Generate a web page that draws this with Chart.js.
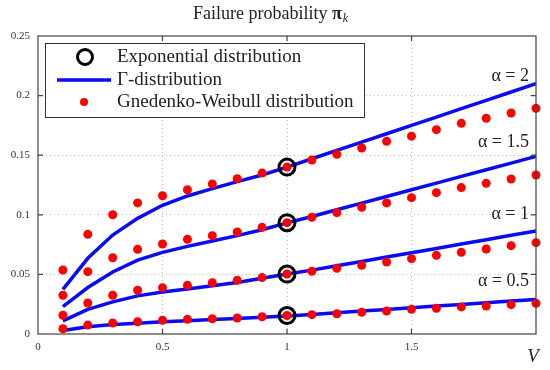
<!DOCTYPE html>
<html>
<head>
<meta charset="utf-8">
<script src="https://cdn.jsdelivr.net/npm/chart.js@4.4.0/dist/chart.umd.min.js"></script>
<style>
  html, body { margin: 0; padding: 0; background: #fff; }
</style>
</head>
<body>
<canvas id="chart" width="550" height="370"></canvas>
<script>
// load V values (x axis)
const V = [0.1, 0.2, 0.3, 0.4, 0.5, 0.6, 0.7, 0.8, 0.9, 1.0,
           1.1, 1.2, 1.3, 1.4, 1.5, 1.6, 1.7, 1.8, 1.9, 2.0];

// Gamma-distribution curves, one per alpha
const gamma2  = [0.0375, 0.0635, 0.083, 0.097, 0.108, 0.1158, 0.122, 0.1278, 0.1334, 0.140,
                 0.147, 0.154, 0.161, 0.168, 0.175, 0.182, 0.189, 0.196, 0.203, 0.210];
const gamma15 = [0.023, 0.039, 0.052, 0.062, 0.0685, 0.0735, 0.078, 0.0825, 0.0875, 0.0932,
                 0.0986, 0.1042, 0.1098, 0.1154, 0.121, 0.1266, 0.1322, 0.1378, 0.1434, 0.149];
const gamma1  = [0.011, 0.0207, 0.027, 0.032, 0.0352, 0.0378, 0.0405, 0.0432, 0.0468, 0.0503,
                 0.0536, 0.0573, 0.0609, 0.0646, 0.0682, 0.0718, 0.0755, 0.0791, 0.0828, 0.0864];
const gamma05 = [0.003, 0.006, 0.008, 0.009, 0.0102, 0.0112, 0.0122, 0.013, 0.014, 0.0152,
                 0.0164, 0.0178, 0.0192, 0.0206, 0.022, 0.0234, 0.0248, 0.0262, 0.0276, 0.029];

// Gnedenko-Weibull points
const gw2  = [0.0537, 0.0836, 0.100, 0.110, 0.116, 0.121, 0.1258, 0.1303, 0.135, 0.140,
              0.146, 0.1507, 0.156, 0.1616, 0.166, 0.1714, 0.1767, 0.181, 0.1854, 0.1893];
const gw15 = [0.0325, 0.0523, 0.064, 0.071, 0.0755, 0.0794, 0.0825, 0.0856, 0.0895, 0.0934,
              0.0979, 0.1018, 0.1063, 0.110, 0.1144, 0.1186, 0.1228, 0.1264, 0.130, 0.1334];
const gw1  = [0.0157, 0.026, 0.0325, 0.0367, 0.0389, 0.0408, 0.043, 0.045, 0.0473, 0.0503,
              0.0526, 0.0551, 0.0576, 0.0604, 0.0632, 0.066, 0.0685, 0.0713, 0.0741, 0.0766];
const gw05 = [0.0044, 0.0075, 0.0092, 0.0103, 0.0115, 0.0123, 0.0128, 0.0134, 0.0145, 0.0155,
              0.0162, 0.017, 0.0182, 0.0193, 0.0207, 0.0215, 0.0227, 0.0235, 0.0246, 0.0257];

// exponential distribution (only at V = 1)
const expV = [1, 1, 1, 1];
const expP = [0.140, 0.0934, 0.0503, 0.0155];

const alphaText = ['\u03b1 = 2', '\u03b1 = 1.5', '\u03b1 = 1', '\u03b1 = 0.5'];
const alphaAt   = [0.216, 0.161, 0.1005, 0.044];

const legendText = ['Exponential distribution', '\u0393-distribution', 'Gnedenko-Weibull distribution'];

const SERIF = '"Liberation Serif", "DejaVu Serif", serif';
const BLUE = '#0a0af5';
const RED = '#ff0000';

function pts(xs, ys) {
  return xs.map((x, i) => ({ x: x, y: ys[i] }));
}

const datasets = [];
[gamma2, gamma15, gamma1, gamma05].forEach(g => {
  datasets.push({ data: pts(V, g), showLine: true, borderColor: BLUE, borderWidth: 3.5,
                  pointRadius: 0, order: 3, clip: false });
});
datasets.push({ data: pts(expV, expP), showLine: false, pointRadius: 8, pointBorderWidth: 3,
                pointBorderColor: '#000', pointBackgroundColor: 'rgba(0,0,0,0)', order: 2, clip: false });
[gw2, gw15, gw1, gw05].forEach(g => {
  datasets.push({ data: pts(V, g), showLine: false, pointRadius: 4.5, pointBorderWidth: 0,
                  pointBackgroundColor: RED, order: 1, clip: false });
});

//frame, inner ticks, labels, title and legend
const decor = {
  id: 'decor',
  afterDraw(chart) {
    const ctx = chart.ctx;
    const a = chart.chartArea;
    const xs = chart.scales.x, ys = chart.scales.y;
    ctx.save();
    ctx.strokeStyle = '#444';
    ctx.lineWidth = 1.2;
    ctx.strokeRect(a.left, a.top, a.right - a.left, a.bottom - a.top);
    ctx.beginPath();
    [0.5, 1, 1.5].forEach(v => {
      const px = xs.getPixelForValue(v);
      ctx.moveTo(px, a.bottom); ctx.lineTo(px, a.bottom - 5);
      ctx.moveTo(px, a.top); ctx.lineTo(px, a.top + 5);
    });
    [0.05, 0.1, 0.15, 0.2].forEach(v => {
      const py = ys.getPixelForValue(v);
      ctx.moveTo(a.left, py); ctx.lineTo(a.left + 5, py);
      ctx.moveTo(a.right, py); ctx.lineTo(a.right - 5, py);
    });
    ctx.stroke();

    // alpha labels
    ctx.fillStyle = '#222';
    ctx.font = '18px ' + SERIF;
    ctx.textAlign = 'right';
    ctx.textBaseline = 'middle';
    alphaText.forEach((t, i) => ctx.fillText(t, a.right - 7, ys.getPixelForValue(alphaAt[i])));

    // V label
    ctx.font = 'italic 19px ' + SERIF;
    ctx.textAlign = 'center';
    ctx.fillText('V', a.right - 3, 357);

    // title
    ctx.textAlign = 'left';
    ctx.font = '18px ' + SERIF;
    const t1 = 'Failure probability ';
    let tx = 193;
    ctx.fillText(t1, tx, 14);
    tx += ctx.measureText(t1).width;
    ctx.font = 'bold 18px ' + SERIF;
    ctx.fillText('\u03c0', tx, 14);
    tx += ctx.measureText('\u03c0').width;
    ctx.font = 'italic 12px ' + SERIF;
    ctx.fillText('k', tx + 1, 19);

    // legend
    ctx.fillStyle = '#fff';
    ctx.fillRect(45.5, 43.5, 319, 74);
    ctx.strokeStyle = '#333';
    ctx.lineWidth = 1;
    ctx.strokeRect(45.5, 43.5, 319, 74);
    const rows = [57, 80, 102];
    ctx.beginPath();
    ctx.strokeStyle = '#000';
    ctx.lineWidth = 3;
    ctx.arc(85, rows[0], 7.5, 0, Math.PI * 2);
    ctx.stroke();
    ctx.beginPath();
    ctx.strokeStyle = BLUE;
    ctx.lineWidth = 3.5;
    ctx.moveTo(57, rows[1]); ctx.lineTo(111, rows[1]);
    ctx.stroke();
    ctx.beginPath();
    ctx.fillStyle = RED;
    ctx.arc(84, rows[2], 4, 0, Math.PI * 2);
    ctx.fill();
    ctx.fillStyle = '#222';
    ctx.font = '19px ' + SERIF;
    ctx.textBaseline = 'middle';
    legendText.forEach((t, i) => ctx.fillText(t, 117, rows[i]));
    ctx.restore();
  }
};

const gridColor = c => (c.tick && (c.tick.value === 0 || Math.abs(c.tick.value - 0.25) < 1e-9 || c.tick.value === 2)) ? 'rgba(0,0,0,0)' : '#bdbdbd';

new Chart(document.getElementById('chart'), {
  type: 'scatter',
  data: { datasets: datasets },
  options: {
    responsive: false,
    animation: false,
    layout: { padding: { top: 36, right: 14, left: 0, bottom: 0 } },
    plugins: { legend: { display: false }, tooltip: { enabled: false }, title: { display: false } },
    scales: {
      x: {
        type: 'linear', min: 0, max: 2,
        afterFit: s => { s.height = 36; },
        ticks: { stepSize: 0.5, padding: 7, color: '#333', font: { family: SERIF, size: 11 },
                 callback: v => v === 2 ? '' : String(v) },
        grid: { color: gridColor, drawTicks: false, lineWidth: 1 },
        border: { display: false, dash: [1, 3] }
      },
      y: {
        type: 'linear', min: 0, max: 0.25,
        afterFit: s => { s.width = 38; },
        ticks: { stepSize: 0.05, padding: 8, color: '#333', font: { family: SERIF, size: 11 },
                 callback: v => String(+v.toFixed(2)) },
        grid: { color: gridColor, drawTicks: false, lineWidth: 1 },
        border: { display: false, dash: [1, 3] }
      }
    }
  },
  plugins: [decor]
});
</script>
</body>
</html>
